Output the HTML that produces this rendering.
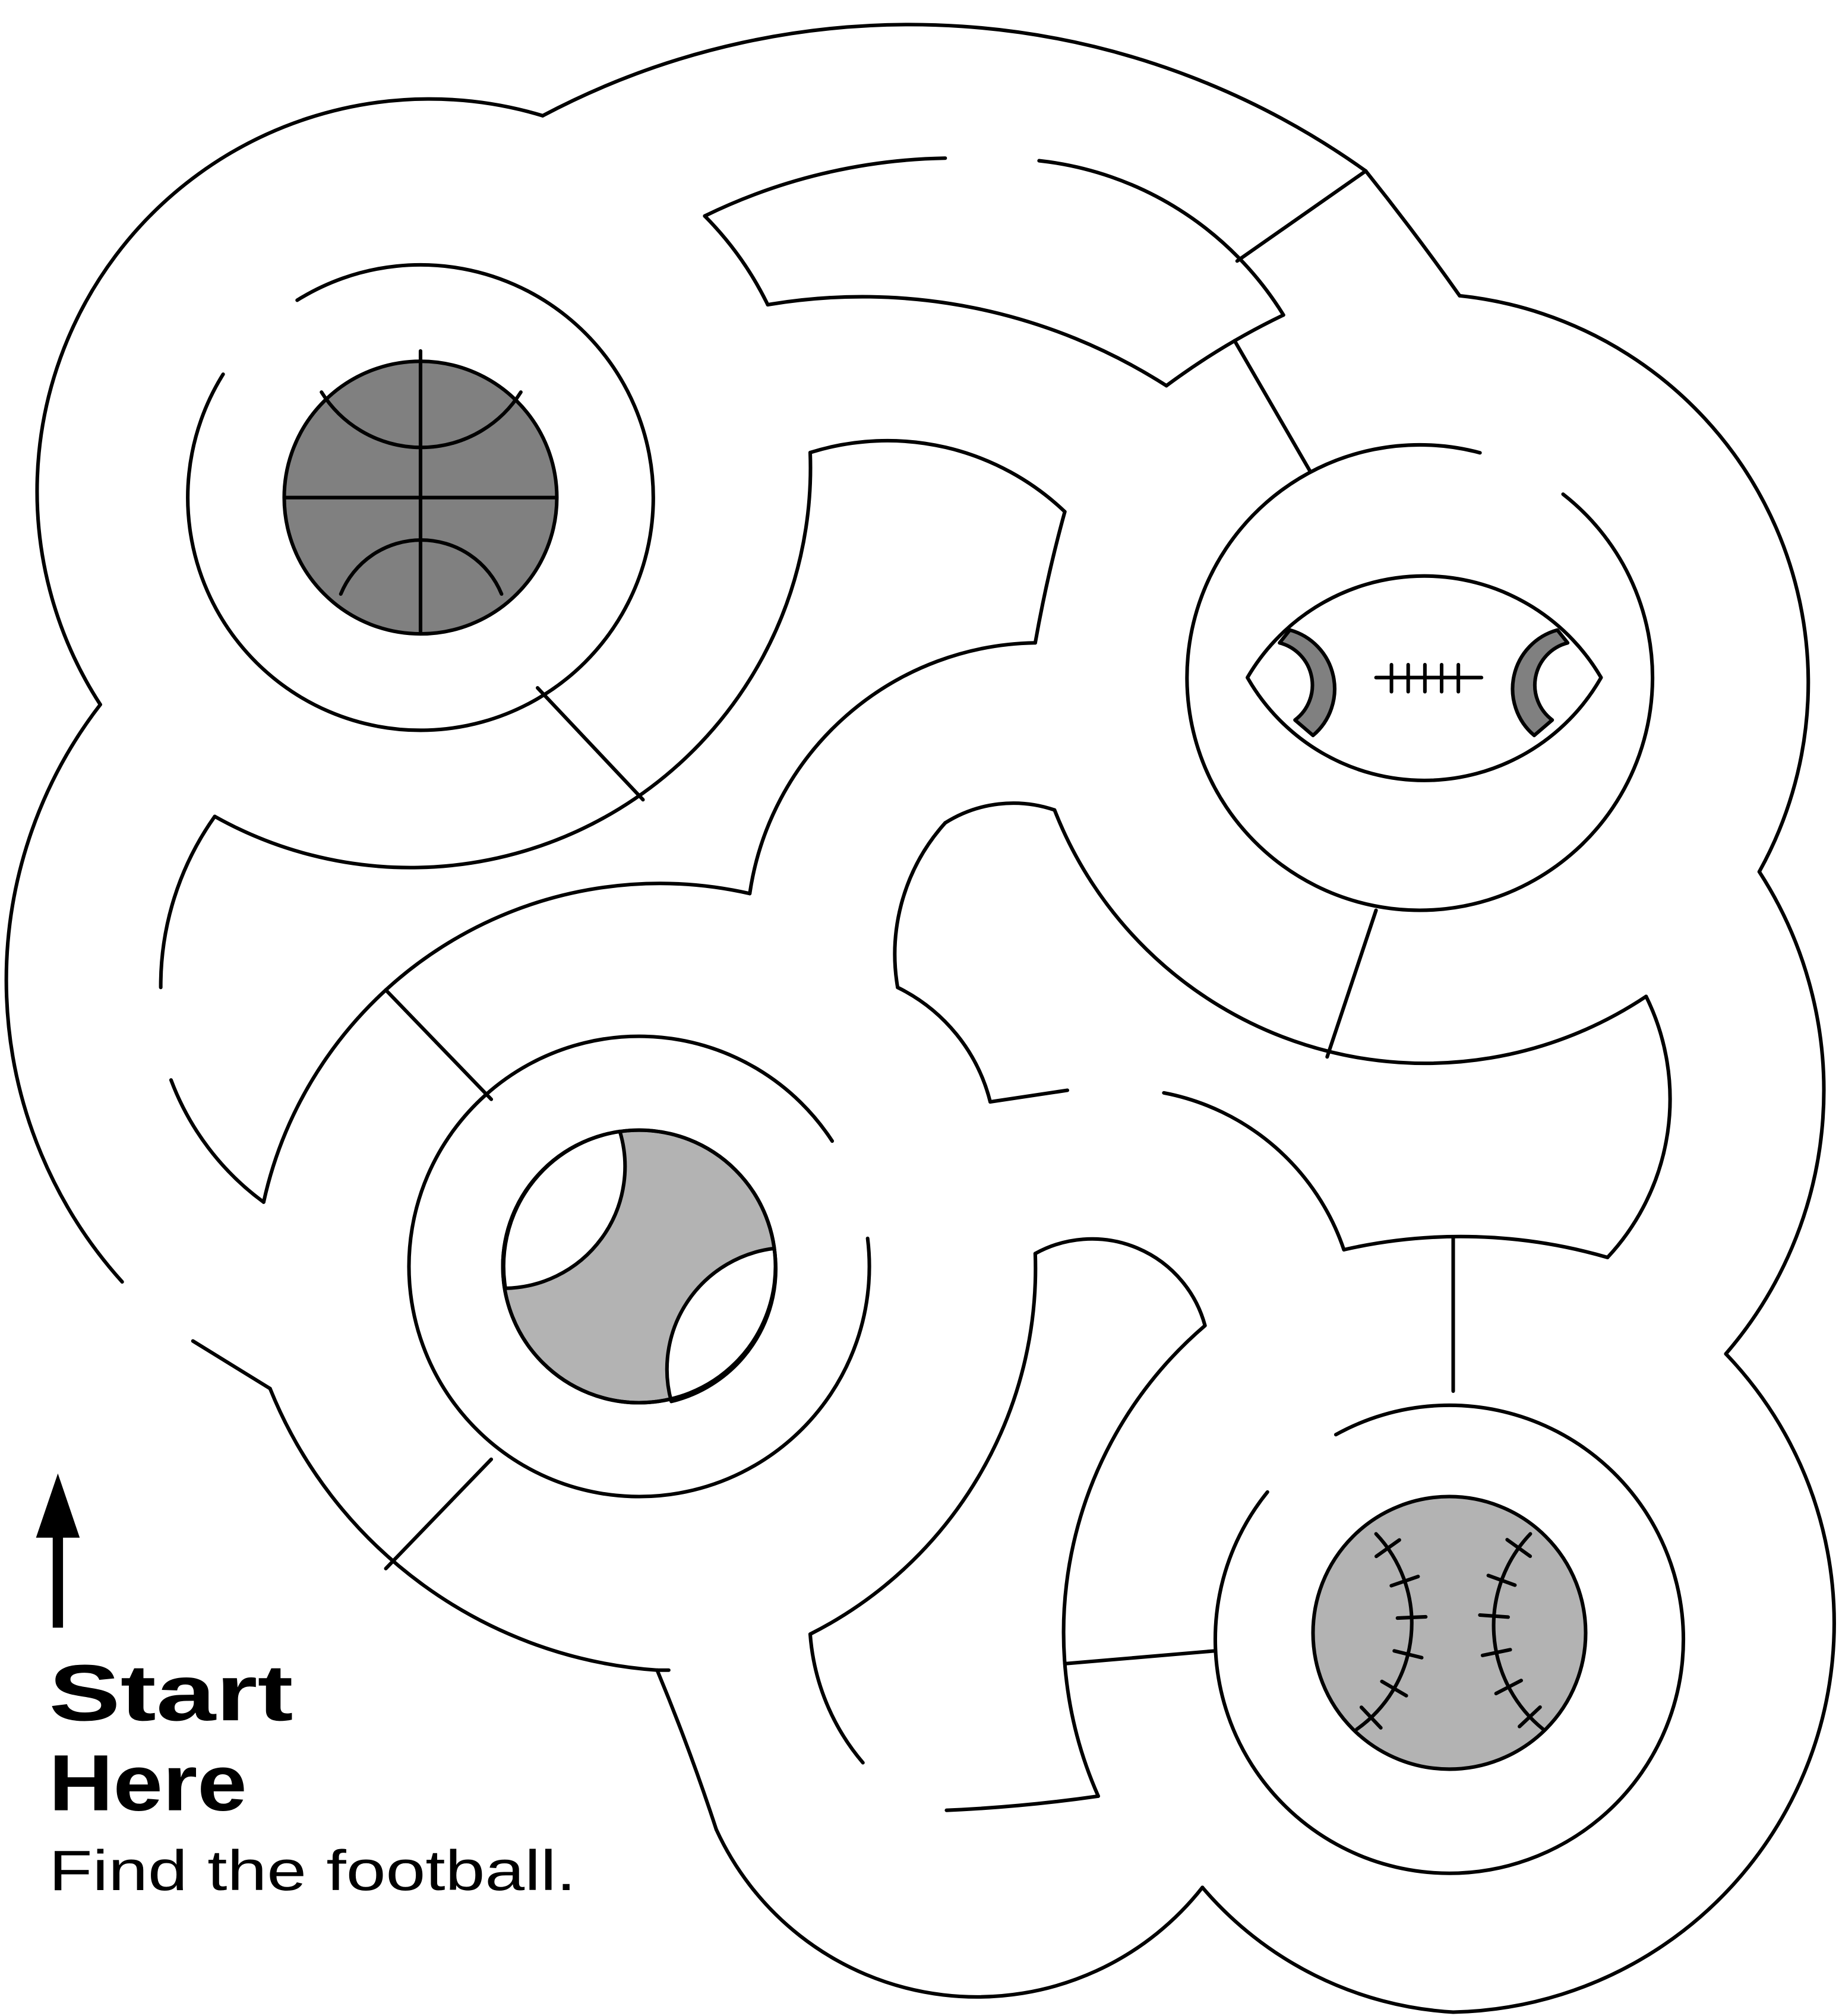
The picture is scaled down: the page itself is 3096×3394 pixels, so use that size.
<!DOCTYPE html>
<html><head><meta charset="utf-8">
<style>
html,body{margin:0;padding:0;background:#fff;}
svg{display:block;}
</style></head>
<body>
<svg id="s" xmlns="http://www.w3.org/2000/svg" width="3096" height="3394" viewBox="0 0 1430 1568" preserveAspectRatio="none">
<rect width="1430" height="1568" fill="#fff"/>
<g id="g" fill="none" stroke="#000" stroke-width="2.8" stroke-linecap="round" stroke-linejoin="round"></g>
<g font-family="'Liberation Sans', sans-serif" fill="#000">
<text x="38" y="1338" font-size="62" font-weight="bold" textLength="190" lengthAdjust="spacingAndGlyphs">Start</text>
<text x="38" y="1408" font-size="62" font-weight="bold" textLength="154" lengthAdjust="spacingAndGlyphs">Here</text>
<text x="38" y="1470" font-size="44" textLength="410" lengthAdjust="spacingAndGlyphs">Find the football.</text>
</g>
<path d="M41,1266 L49,1266 L49,1196 L62,1196 L45,1146 L28,1196 L41,1196 Z" fill="#000"/>
</svg>
<script>
var g=document.getElementById('g');var NS='http://www.w3.org/2000/svg';
function add(d,fill,sw,stroke){var p=document.createElementNS(NS,'path');p.setAttribute('d',d);if(fill)p.setAttribute('fill',fill);if(sw)p.setAttribute('stroke-width',sw);if(stroke)p.setAttribute('stroke',stroke);g.appendChild(p);return p;}
function circ(a,b,c){var ax=a[0],ay=a[1],bx=b[0],by=b[1],cx=c[0],cy=c[1];var d=2*(ax*(by-cy)+bx*(cy-ay)+cx*(ay-by));var ux=((ax*ax+ay*ay)*(by-cy)+(bx*bx+by*by)*(cy-ay)+(cx*cx+cy*cy)*(ay-by))/d;var uy=((ax*ax+ay*ay)*(cx-bx)+(bx*bx+by*by)*(ax-cx)+(cx*cx+cy*cy)*(bx-ax))/d;return [ux,uy,Math.hypot(ax-ux,ay-uy)];}
function seg3(a,b,c,move){var C=circ(a,b,c);var cr=(b[0]-a[0])*(c[1]-a[1])-(b[1]-a[1])*(c[0]-a[0]);var sw=cr>0?1:0;var a1=Math.atan2(a[1]-C[1],a[0]-C[0])*180/Math.PI,a3=Math.atan2(c[1]-C[1],c[0]-C[0])*180/Math.PI;var span=sw?((a3-a1)%360+360)%360:((a1-a3)%360+360)%360;var lg=span>180?1:0;return (move?'M'+a[0]+','+a[1]:'')+' A'+C[2]+','+C[2]+' 0 '+lg+' '+sw+' '+c[0]+','+c[1];}
function A(a,b,c){return add(seg3(a,b,c,true));}
function L(a,b){return add('M'+a[0]+','+a[1]+' L'+b[0]+','+b[1]);}
function arcC(cx,cy,r,a1,a2){var p=function(a){a=a*Math.PI/180;return [cx+r*Math.cos(a),cy+r*Math.sin(a)];};var s=p(a1),e=p(a2);return add('M'+s[0]+','+s[1]+' A'+r+','+r+' 0 '+((a2-a1)>180?1:0)+' 1 '+e[0]+','+e[1]);}

// outer boundary
A([422,90],[740,20],[1062,133]);
A([1062,133],[1097,178],[1135,230]);
A([1135,230],[1364,377],[1368,678]);
A([1368,678],[1418,860],[1342,1053]);
A([1342,1053],[1425,1290],[1130,1565]);
A([1130,1565],[1030,1540],[935,1468]);
A([935,1468],[700,1545],[557,1423]);
A([557,1423],[535,1360],[511,1299]);
L([511,1299],[520,1299]);
A([210,1080],[347,1245],[511,1299]);
L([210,1080],[150,1043]);
A([95,997],[5,770],[78,548]);
A([78,548],[45,284],[422,90]);

// top band
A([548,168],[640,135],[735,123]);
A([808,125],[920,165],[998,245]);
A([907,300],[955,268],[998,245]);
A([597,237],[760,240],[907,300]);
A([548,168],[575,200],[597,237]);
L([962,203],[1062,133]);
L([960,265],[1019,367]);

// basketball ring
arcC(327,387,181,-122,212);
L([418,535],[500,622]);
A([167,635],[480,630],[630,352]);
A([630,352],[720,345],[828,398]);
A([828,398],[815,450],[805,500]);
A([805,500],[660,555],[583,695]);
A([167,635],[135,700],[125,768]);
A([133,840],[160,890],[205,935]);
A([205,935],[300,770],[583,695]);

// middle ring
arcC(497,985,179,-7,327);
L([300,770],[382,855]);
L([382,1135],[300,1220]);

// middle bottom
A([805,975],[760,1150],[630,1271]);
A([630,1271],[645,1330],[671,1371]);
A([805,975],[865,965],[937,1031]);
A([937,1031],[828,1294],[854,1397]);
A([854,1397],[795,1404],[736,1408]);
L([828,1294],[945,1284]);

// football region
arcC(1104,527,181,-52,285);
A([820,630],[1104,827],[1280,775]);
L([1070,708],[1032,822]);
A([1280,775],[1298,870],[1250,978]);
A([1250,978],[1150,962],[1045,972]);
A([1045,972],[1000,900],[905,850]);
L([770,857],[830,848]);
A([770,857],[740,800],[698,768]);
A([698,768],[705,690],[735,640]);
A([735,640],[780,625],[820,630]);
L([1130,963],[1130,1082]);

// baseball ring
arcC(1127,1275,182,-119,219);

// basketball
add('M221,387 a106,106 0 1,0 212,0 a106,106 0 1,0 -212,0','#808080');
L([222,387],[432,387]);L([327,273],[327,493]);
A([250,305],[327,348],[405,305]);
A([265,462],[327,420],[390,462]);

// middle ball
add('M391,985 a106,106 0 1,0 212,0 a106,106 0 1,0 -212,0','#b3b3b3');
add('M482,880'+seg3([482,880],[470,960],[393,1002],false)+' A106,106 0 0 1 482,880 Z','#fff');
add('M602,971'+seg3([602,971],[530,1020],[522,1090],false)+' A106,106 0 0 0 602,971 Z','#fff');
add('M391,985 a106,106 0 1,0 212,0 a106,106 0 1,0 -212,0');

// football
add('M970,527'+seg3([970,527],[1107,448],[1245,527],false)+seg3([1245,527],[1107,607],[970,527],false)+'Z','#fff');
add('M1003,490'+seg3([1003,490],[1037,527],[1021,572],false)+' L1007,560'+seg3([1007,560],[1020,527],[995,500],false)+'Z','#808080');
add('M1211,490'+seg3([1211,490],[1177,527],[1193,572],false)+' L1207,560'+seg3([1207,560],[1194,527],[1219,500],false)+'Z','#808080');
L([1070,527],[1152,527]);
[1082,1095,1108,1121,1134].forEach(function(x){L([x,517],[x,538]);});

// baseball
add('M1021,1270 a106,106 0 1,0 212,0 a106,106 0 1,0 -212,0','#b3b3b3');
function stitch(a,b,c,n){A(a,b,c);var C=circ(a,b,c);var a1=Math.atan2(a[1]-C[1],a[0]-C[0]),a3=Math.atan2(c[1]-C[1],c[0]-C[0]);var d=a3-a1;if(d>Math.PI)d-=2*Math.PI;if(d<-Math.PI)d+=2*Math.PI;for(var i=0;i<n;i++){var t=a1+d*(i+0.5)/n;var x1=C[0]+(C[2]-11)*Math.cos(t),y1=C[1]+(C[2]-11)*Math.sin(t),x2=C[0]+(C[2]+11)*Math.cos(t),y2=C[1]+(C[2]+11)*Math.sin(t);L([x1,y1],[x2,y2]);}}
stitch([1070,1193],[1097,1275],[1055,1345],6);
stitch([1190,1193],[1162,1275],[1200,1345],6);
</script>
</body></html>
